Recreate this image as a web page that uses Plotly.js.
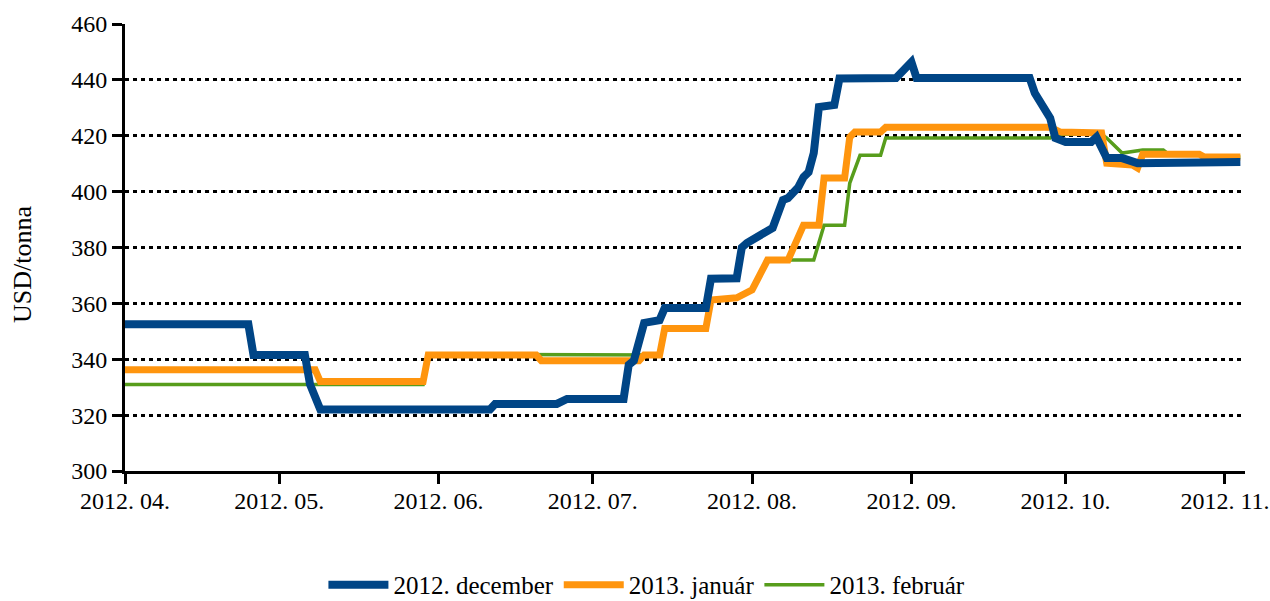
<!DOCTYPE html>
<html>
<head>
<meta charset="utf-8">
<script src="https://cdn.plot.ly/plotly-3.0.1.min.js"></script>
<style>
html,body{margin:0;padding:0;background:#fff;}
#chart{width:1270px;height:601px;}
</style>
</head>
<body>
<div id="chart"></div>
<script>
// Series names
const seriesNames = ['2012. december', '2013. január', '2013. február'];

// 2012. december contract
const decDates = ['2012-04-01','2012-04-25','2012-04-26','2012-05-06','2012-05-07','2012-05-09','2012-06-11','2012-06-12','2012-06-24','2012-06-26','2012-07-07','2012-07-08','2012-07-09','2012-07-11','2012-07-14','2012-07-15','2012-07-23','2012-07-24','2012-07-29','2012-07-30','2012-07-31','2012-08-04','2012-08-05','2012-08-07','2012-08-08','2012-08-10','2012-08-11','2012-08-12','2012-08-13','2012-08-14','2012-08-17','2012-08-18','2012-08-29','2012-09-01','2012-09-02','2012-09-24','2012-09-25','2012-09-28','2012-09-29','2012-10-01','2012-10-06','2012-10-07','2012-10-09','2012-10-12','2012-10-15','2012-11-04'];
const decValues = [352.5,352.5,341.5,341.5,331,322,322,324,324,325.8,325.8,338,339.5,353,354,358.3,358.3,368.8,369,380,381.6,385.5,387,397,397.7,401.6,405.2,407,413.8,430.3,431,440.5,440.7,446.4,440.7,440.7,435.3,426.3,419.2,417.8,417.8,419.5,412,412,410.2,410.6];

// 2013. január contract
const janDates = ['2012-04-01','2012-05-08','2012-05-09','2012-05-29','2012-05-30','2012-06-20','2012-06-21','2012-07-10','2012-07-11','2012-07-14','2012-07-15','2012-07-23','2012-07-24','2012-07-29','2012-08-01','2012-08-04','2012-08-08','2012-08-11','2012-08-14','2012-08-15','2012-08-19','2012-08-20','2012-08-21','2012-08-26','2012-08-27','2012-09-28','2012-09-30','2012-10-08','2012-10-09','2012-10-14','2012-10-15','2012-10-16','2012-10-27','2012-10-28','2012-11-04'];
const janValues = [336.2,336.2,332,332,341.5,341.5,339.5,339.5,341.5,341.5,351,351,361.2,362,364.8,375.5,375.5,388,388,404.9,404.9,419.5,421.3,421.3,423,423,421.3,421,410.2,409.5,408.4,413.4,413.4,412.4,412.4];

// 2013. február contract
const febDates = ['2012-04-01','2012-05-29','2012-05-30','2012-07-09','2012-07-11','2012-07-14','2012-07-15','2012-07-23','2012-07-24','2012-07-29','2012-08-01','2012-08-04','2012-08-13','2012-08-15','2012-08-19','2012-08-20','2012-08-22','2012-08-26','2012-08-27','2012-09-28','2012-09-29','2012-10-08','2012-10-09','2012-10-12','2012-10-16','2012-10-20','2012-10-21','2012-10-27','2012-10-28','2012-11-04'];
const febValues = [331,331,341.8,341.8,341.5,341.5,351,351,361.2,362,364.8,375.5,375.5,388,388,403,413,413,419.2,419.2,420.5,420.5,419.2,413.8,414.9,414.9,413.4,413.4,412.4,412.4];

// Axis ticks
const xTickVals = ['2012-04-01','2012-05-01','2012-06-01','2012-07-01','2012-08-01','2012-09-01','2012-10-01','2012-11-01'];
const xTickText = ['2012. 04.','2012. 05.','2012. 06.','2012. 07.','2012. 08.','2012. 09.','2012. 10.','2012. 11.'];
const yTickVals = [300,320,340,360,380,400,420,440,460];
const yTitle = 'USD/tonna';

const serif = 'Liberation Serif, Times New Roman, serif';

const traces = [
  {x: febDates, y: febValues, name: seriesNames[2], type: 'scatter', mode: 'lines',
   line: {color: '#579d1c', width: 3.5}, legendrank: 3},
  {x: janDates, y: janValues, name: seriesNames[1], type: 'scatter', mode: 'lines',
   line: {color: '#ff950e', width: 7}, legendrank: 2},
  {x: decDates, y: decValues, name: seriesNames[0], type: 'scatter', mode: 'lines',
   line: {color: '#004586', width: 8}, legendrank: 1}
];

const layout = {
  width: 1270, height: 601,
  margin: {l: 125, r: 25, t: 24, b: 130, pad: 0, autoexpand: false},
  paper_bgcolor: '#ffffff', plot_bgcolor: '#ffffff',
  font: {family: serif, size: 20, color: '#000'},
  showlegend: true,
  legend: {orientation: 'h', x: 0.466, xanchor: 'center', y: -0.255, yanchor: 'middle',
           font: {family: serif, size: 25, color: '#000'}, itemwidth: 60, tracegroupgap: 0},
  xaxis: {
    type: 'date', range: ['2012-04-01', '2012-11-04 21:36'],
    tickmode: 'array', tickvals: xTickVals, ticktext: xTickText,
    showgrid: false, zeroline: false,
    showline: true, linecolor: '#000', linewidth: 3,
    ticks: 'outside', ticklen: 10, tickwidth: 3, tickcolor: '#000',
    ticklabelstandoff: -4,
    tickfont: {family: serif, size: 24, color: '#000'}
  },
  yaxis: {
    range: [300, 460], tickmode: 'array', tickvals: yTickVals,
    showgrid: true, gridcolor: '#000', gridwidth: 3, griddash: '4px,4px',
    zeroline: false,
    showline: true, linecolor: '#000', linewidth: 3,
    ticks: 'outside', ticklen: 10, tickwidth: 3, tickcolor: '#000',
    tickfont: {family: serif, size: 24, color: '#000'}
  },
  annotations: [{
    text: yTitle, textangle: -90, showarrow: false,
    xref: 'paper', yref: 'paper', x: -0.092, y: 0.463,
    xanchor: 'center', yanchor: 'middle',
    font: {family: serif, size: 26, color: '#000'}
  }]
};

Plotly.newPlot('chart', traces, layout, {displayModeBar: false, staticPlot: true});
</script>
</body>
</html>
